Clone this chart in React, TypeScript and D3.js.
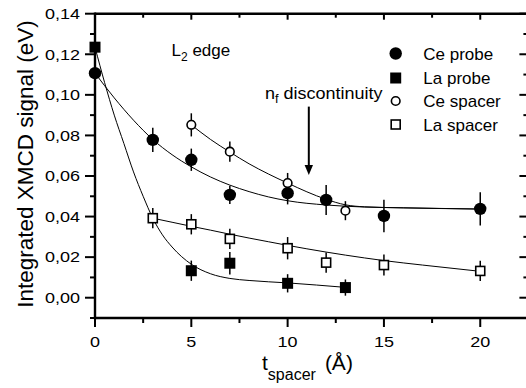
import React from 'react';
import * as d3 from 'd3';

// Measured data
const ceProbeT = [0, 3, 5, 7, 10, 12, 15, 20];
const ceProbeV = [0.1107, 0.0778, 0.068, 0.0507, 0.0515, 0.0482, 0.0403, 0.0438];
const ceProbeErr = [0.003, 0.006, 0.0055, 0.0045, 0.0055, 0.0074, 0.008, 0.0082];

const laProbeT = [0, 5, 7, 10, 13];
const laProbeV = [0.1235, 0.0133, 0.017, 0.0071, 0.005];
const laProbeErr = [0.003, 0.005, 0.0055, 0.0045, 0.004];

const ceSpacerT = [5, 7, 10, 13];
const ceSpacerV = [0.0852, 0.072, 0.0565, 0.0429];
const ceSpacerErr = [0.0057, 0.005, 0.005, 0.0047];

const laSpacerT = [3, 5, 7, 10, 12, 15, 20];
const laSpacerV = [0.0392, 0.0362, 0.029, 0.0244, 0.0173, 0.0161, 0.0132];
const laSpacerErr = [0.005, 0.005, 0.005, 0.0055, 0.005, 0.0052, 0.005];

// Fit curves
const ceProbeFitT = [0, 1, 2, 3, 4, 5, 6, 7, 8, 9, 10, 12, 14, 16, 20];
const ceProbeFitV = [0.1107, 0.0985, 0.0875, 0.078, 0.0705, 0.0645, 0.0595, 0.0555, 0.0523, 0.0497, 0.0478, 0.0457, 0.0447, 0.0443, 0.0437];

const laProbeFitT = [0, 0.5, 1, 1.5, 2, 2.5, 3, 3.5, 4, 5, 6, 7, 8, 10, 13];
const laProbeFitV = [0.1235, 0.106, 0.09, 0.076, 0.062, 0.05, 0.0392, 0.031, 0.025, 0.0165, 0.0118, 0.0095, 0.0085, 0.0073, 0.0051];

const ceSpacerFitT = [5, 6, 7, 8, 9, 10, 11, 12, 13, 14, 16, 20];
const ceSpacerFitV = [0.0852, 0.078, 0.0718, 0.066, 0.061, 0.0565, 0.0522, 0.0485, 0.0458, 0.0448, 0.0443, 0.0437];

const laSpacerFitT = [3, 4, 5, 6, 7, 8, 9, 10, 11, 12, 13, 14, 15, 17, 20];
const laSpacerFitV = [0.0392, 0.0372, 0.0352, 0.0333, 0.0313, 0.0294, 0.0276, 0.0258, 0.0241, 0.0225, 0.021, 0.0196, 0.0183, 0.0161, 0.013];

const xTickValues = [0, 5, 10, 15, 20];
const xTickLabels = ['0', '5', '10', '15', '20'];
const yTickValues = [0, 0.02, 0.04, 0.06, 0.08, 0.1, 0.12, 0.14];
const yTickLabels = ['0,00', '0,02', '0,04', '0,06', '0,08', '0,10', '0,12', '0,14'];

const legendLabels = ['Ce probe', 'La probe', 'Ce spacer', 'La spacer'];
const arrowT = 11.1;
const arrowFrom = 0.0942;
const arrowTo = 0.0605;

const FONT = '"Liberation Sans", Arial, Helvetica, sans-serif';

type Kind = 'fc' | 'fs' | 'oc' | 'os';

function Marker({ kind, cx, cy }: { kind: Kind; cx: number; cy: number }) {
  if (kind === 'fc') return <circle cx={cx} cy={cy} r={6.2} fill="#000" />;
  if (kind === 'fs') return <rect x={cx - 5.5} y={cy - 5.5} width={11} height={11} fill="#000" />;
  if (kind === 'oc') return <circle cx={cx} cy={cy} r={4.3} fill="#fff" stroke="#000" strokeWidth={1.6} />;
  return <rect x={cx - 4.5} y={cy - 4.5} width={9} height={9} fill="#fff" stroke="#000" strokeWidth={1.6} />;
}

function STxt({ x, y, sx = 1, size, anchor = 'start', children }: any) {
  return (
    <text transform={`translate(${x},${y}) scale(${sx},1)`} fontSize={size} textAnchor={anchor} fontFamily={FONT} fill="#000">
      {children}
    </text>
  );
}

export default function App() {
  const W = 526;
  const H = 388;
  const x = d3.scaleLinear().domain([0, 22.5]).range([95, 528.4]);
  const y = d3.scaleLinear().domain([-0.01, 0.14]).range([318, 13.7]);
  const x0 = x(0);
  const xr = x(22.5);
  const yb = y(-0.01);
  const yt = y(0.14);

  const line = d3
    .line<[number, number]>()
    .x((d) => x(d[0]))
    .y((d) => y(d[1]))
    .curve(d3.curveMonotoneX);

  const fits: [number[], number[]][] = [
    [ceProbeFitT, ceProbeFitV],
    [laProbeFitT, laProbeFitV],
    [ceSpacerFitT, ceSpacerFitV],
    [laSpacerFitT, laSpacerFitV],
  ];

  const series: { t: number[]; v: number[]; e: number[]; kind: Kind }[] = [
    { t: laSpacerT, v: laSpacerV, e: laSpacerErr, kind: 'os' },
    { t: ceSpacerT, v: ceSpacerV, e: ceSpacerErr, kind: 'oc' },
    { t: laProbeT, v: laProbeV, e: laProbeErr, kind: 'fs' },
    { t: ceProbeT, v: ceProbeV, e: ceProbeErr, kind: 'fc' },
  ];

  const minorX = d3.range(0, 22.6, 2.5);
  const minorY = d3.range(-0.01, 0.1401, 0.01).map((v) => Math.round(v * 1000) / 1000);
  const legendKinds: Kind[] = ['fc', 'fs', 'oc', 'os'];
  const legendRows = [53.5, 78, 101, 124.5];

  return (
    <svg width={W} height={H} style={{ position: 'absolute', left: 0, top: 0, background: '#fff' }}>
      <rect x={0} y={0} width={W} height={H} fill="#fff" />
      {/* fit curves */}
      {fits.map(([ts, vs], i) => (
        <path key={i} d={line(ts.map((t, j) => [t, vs[j]]))!} fill="none" stroke="#000" strokeWidth={1} />
      ))}
      {/* error bars */}
      {series.map((s, si) =>
        s.t.map((t, i) => (
          <line key={`e${si}-${i}`} x1={x(t)} x2={x(t)} y1={y(s.v[i] - s.e[i])} y2={y(s.v[i] + s.e[i])} stroke="#000" strokeWidth={1.5} />
        ))
      )}
      {/* markers */}
      {series.map((s, si) => s.t.map((t, i) => <Marker key={`m${si}-${i}`} kind={s.kind} cx={x(t)} cy={y(s.v[i])} />))}

      {/* axes frame */}
      <g stroke="#000" strokeWidth={2}>
        {minorX.map((t, i) => {
          const major = Math.abs(t % 5) < 1e-6;
          return (
            <g key={`xt${i}`}>
              <line x1={x(t)} x2={x(t)} y1={yb} y2={yb + (major ? 9 : 5)} />
              <line x1={x(t)} x2={x(t)} y1={yt} y2={yt + (major ? 6 : 4)} />
            </g>
          );
        })}
        {minorY.map((v, i) => {
          const major = Math.abs(Math.round(v * 100) % 2) === 0;
          return (
            <g key={`yt${i}`}>
              <line x1={x0} x2={x0 - (major ? 10 : 5)} y1={y(v)} y2={y(v)} />
              <line x1={xr} x2={xr - (major ? 9 : 5)} y1={y(v)} y2={y(v)} />
            </g>
          );
        })}
      </g>
      <g stroke="#000" strokeWidth={2.4} fill="none">
        <line x1={x0} x2={x0} y1={yt - 1.2} y2={yb + 1.2} />
        <line x1={x0} x2={xr} y1={yb} y2={yb} />
        <line x1={x0} x2={xr} y1={yt} y2={yt} />
        <line x1={xr} x2={xr} y1={yt} y2={yb} />
      </g>

      {/* tick labels */}
      {yTickValues.map((v, i) => (
        <STxt key={`yl${i}`} x={80} y={y(v) + 5.3} sx={1.2} size={15} anchor="end">
          {yTickLabels[i]}
        </STxt>
      ))}
      {xTickValues.map((t, i) => (
        <STxt key={`xl${i}`} x={x(t)} y={346.5} sx={1.2} size={15} anchor="middle">
          {xTickLabels[i]}
        </STxt>
      ))}

      {/* axis titles */}
      <text x={262} y={370} fontSize={21} fontFamily={FONT} fill="#000">
        t
        <tspan fontSize={16} dy={10}>spacer</tspan>
        <tspan dy={-10} dx={9}>(Å)</tspan>
      </text>
      <text transform="translate(33,164) rotate(-90)" fontSize={22.5} fontFamily={FONT} textAnchor="middle" fill="#000">
        Integrated XMCD signal (eV)
      </text>

      {/* annotations */}
      <text x={171.5} y={56} fontSize={17} fontFamily={FONT} fill="#000">
        L<tspan fontSize={12} dy={4.5}>2</tspan>
        <tspan dy={-4.5}> edge</tspan>
      </text>
      <text transform="translate(265,98.5) scale(1.06,1)" fontSize={17} fontFamily={FONT} fill="#000">
        n<tspan fontSize={12} dy={4}>f</tspan>
        <tspan dy={-4}> discontinuity</tspan>
      </text>
      <line x1={x(arrowT)} x2={x(arrowT)} y1={y(arrowFrom)} y2={y(arrowTo) - 9} stroke="#000" strokeWidth={2} />
      <path
        d={`M${x(arrowT) - 4.2},${y(arrowTo) - 10} L${x(arrowT) + 4.2},${y(arrowTo) - 10} L${x(arrowT)},${y(arrowTo)} Z`}
        fill="#000"
      />

      {/* legend */}
      {legendLabels.map((lab, i) => (
        <g key={`lg${i}`}>
          <Marker kind={legendKinds[i]} cx={395.7} cy={legendRows[i]} />
          <text x={423.3} y={legendRows[i] + 6} fontSize={17} fontFamily={FONT} fill="#000">
            {lab}
          </text>
        </g>
      ))}
    </svg>
  );
}
